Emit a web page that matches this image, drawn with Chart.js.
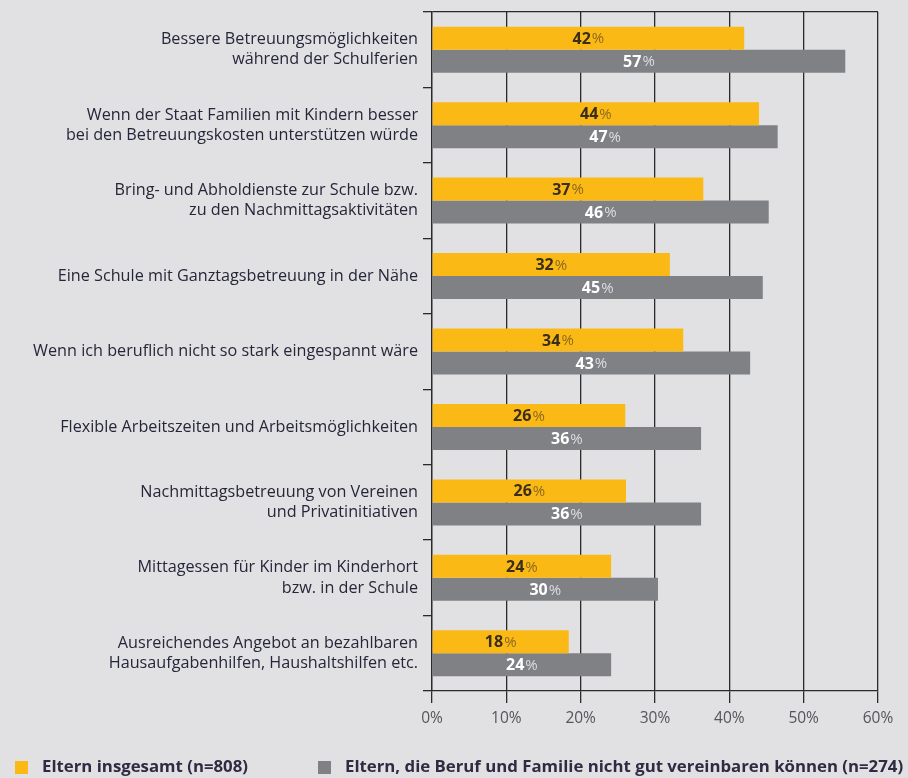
<!DOCTYPE html>
<html>
<head>
<meta charset="utf-8">
<script src="https://cdn.jsdelivr.net/npm/chart.js@4.4.0/dist/chart.umd.min.js"></script>
<style>
    html, body { margin: 0; padding: 0; background: #e1e1e3; }
    #wrap { width: 908px; height: 778px; position: relative; }
</style>
</head>
<body>
<div id="wrap"><canvas id="chart"></canvas></div>
<script>
var categories = [
    ['Bessere Betreuungsmöglichkeiten', 'während der Schulferien'],
    ['Wenn der Staat Familien mit Kindern besser', 'bei den Betreuungskosten unterstützen würde'],
    ['Bring- und Abholdienste zur Schule bzw.', 'zu den Nachmittagsaktivitäten'],
    'Eine Schule mit Ganztagsbetreuung in der Nähe',
    'Wenn ich beruflich nicht so stark eingespannt wäre',
    'Flexible Arbeitszeiten und Arbeitsmöglichkeiten',
    ['Nachmittagsbetreuung von Vereinen', 'und Privatinitiativen'],
    ['Mittagessen für Kinder im Kinderhort', 'bzw. in der Schule'],
    ['Ausreichendes Angebot an bezahlbaren', 'Hausaufgabenhilfen, Haushaltshilfen etc.']
];
var seriesNames = ['Eltern insgesamt (n=808)', 'Eltern, die Beruf und Familie nicht gut vereinbaren können (n=274)'];

// bar lengths as drawn in the picture
var elternValues = [42, 44, 36.5, 32, 33.8, 26, 26.1, 24.1, 18.4];
var nichtVereinbarValues = [55.6, 46.5, 45.3, 44.5, 42.8, 36.2, 36.2, 30.4, 24.1];
// printed labels
var elternLabels = [42, 44, 37, 32, 34, 26, 26, 24, 18];
var nichtVereinbarLabels = [57, 47, 46, 45, 43, 36, 36, 30, 24];
var xTicks = [0, 10, 20, 30, 40, 50, 60];

var YELLOW = '#fbb916';
var GREY = '#808185';
var FONT = "'Open Sans', 'Noto Sans', sans-serif";

var barLabels = {
    id: 'barLabels',
    afterDatasetsDraw: function (chart) {
        var ctx = chart.ctx;
        var texts = [elternLabels, nichtVereinbarLabels];
        var numColors = ['#3a2e1c', '#ffffff'];
        var pctColors = ['#8c6a1e', '#d9dde4'];
        ctx.save();
        ctx.textBaseline = 'middle';
        chart.data.datasets.forEach(function (ds, i) {
            var meta = chart.getDatasetMeta(i);
            meta.data.forEach(function (bar, j) {
                var num = String(texts[i][j]);
                ctx.font = 'bold 16px ' + FONT;
                var w1 = ctx.measureText(num).width;
                ctx.font = '15px ' + FONT;
                var w2 = ctx.measureText('%').width;
                var cx = (bar.base + bar.x) / 2;
                var x0 = cx - (w1 + 1 + w2) / 2;
                ctx.textAlign = 'left';
                ctx.font = 'bold 16px ' + FONT;
                ctx.fillStyle = numColors[i];
                ctx.fillText(num, x0, bar.y + 1);
                ctx.font = '15px ' + FONT;
                ctx.fillStyle = pctColors[i];
                ctx.fillText('%', x0 + w1 + 1, bar.y + 1);
            });
        });
        ctx.restore();
    }
};

var bottomLegend = {
    id: 'bottomLegend',
    afterDraw: function (chart) {
        var ctx = chart.ctx;
        var y = 767;
        var items = [
            { x: 15, color: YELLOW, text: seriesNames[0] },
            { x: 318, color: GREY, text: seriesNames[1] }
        ];
        ctx.save();
        ctx.font = 'bold 16.8px ' + FONT;
        ctx.textBaseline = 'middle';
        ctx.textAlign = 'left';
        items.forEach(function (it) {
            ctx.fillStyle = it.color;
            ctx.fillRect(it.x, y - 6, 13, 13);
            ctx.fillStyle = '#2e2b42';
            ctx.fillText(it.text, it.x + 27, y);
        });
        ctx.restore();
    }
};

var ctx = document.getElementById('chart');
var myChart = new Chart(ctx, {
    type: 'bar',
    data: {
        labels: categories,
        datasets: [{
            label: seriesNames[0],
            data: elternValues,
            backgroundColor: YELLOW,
            categoryPercentage: 0.61,
            barPercentage: 1
        }, {
            label: seriesNames[1],
            data: nichtVereinbarValues,
            backgroundColor: GREY,
            categoryPercentage: 0.61,
            barPercentage: 1
        }]
    },
    options: {
        indexAxis: 'y',
        responsive: true,
        maintainAspectRatio: false,
        animation: false,
        layout: { padding: { top: 12, right: 30, left: 0, bottom: 0 } },
        plugins: {
            legend: { display: false },
            tooltip: { enabled: false }
        },
        scales: {
            x: {
                min: 0,
                max: 60,
                afterBuildTicks: function (scale) {
                    scale.ticks = xTicks.map(function (v) { return { value: v }; });
                },
                afterFit: function (scale) { scale.height = 87; },
                border: { display: true, color: '#2a2a2a', width: 1.3 },
                grid: {
                    color: '#2a2a2a',
                    lineWidth: 1.3,
                    tickLength: 12,
                    drawOnChartArea: true
                },
                ticks: {
                    color: '#55555a',
                    font: { family: FONT, size: 15.5 },
                    padding: 6,
                    callback: function (v) { return v + '%'; }
                }
            },
            y: {
                afterFit: function (scale) {
                    scale.width = 432;
                    scale.paddingTop = 0;
                    scale.paddingBottom = 0;
                },
                border: { display: true, color: '#2a2a2a', width: 1.3 },
                grid: {
                    offset: true,
                    tickLength: 9,
                    lineWidth: 1.3,
                    color: function (c) { return c.index === 0 ? '#2a2a2a' : 'rgba(0,0,0,0)'; },
                    tickColor: '#2a2a2a'
                },
                ticks: {
                    color: '#26263a',
                    font: { family: FONT, size: 16.2, lineHeight: 1.25 },
                    padding: 5,
                    autoSkip: false
                }
            }
        }
    },
    plugins: [barLabels, bottomLegend]
});
</script>
</body>
</html>
